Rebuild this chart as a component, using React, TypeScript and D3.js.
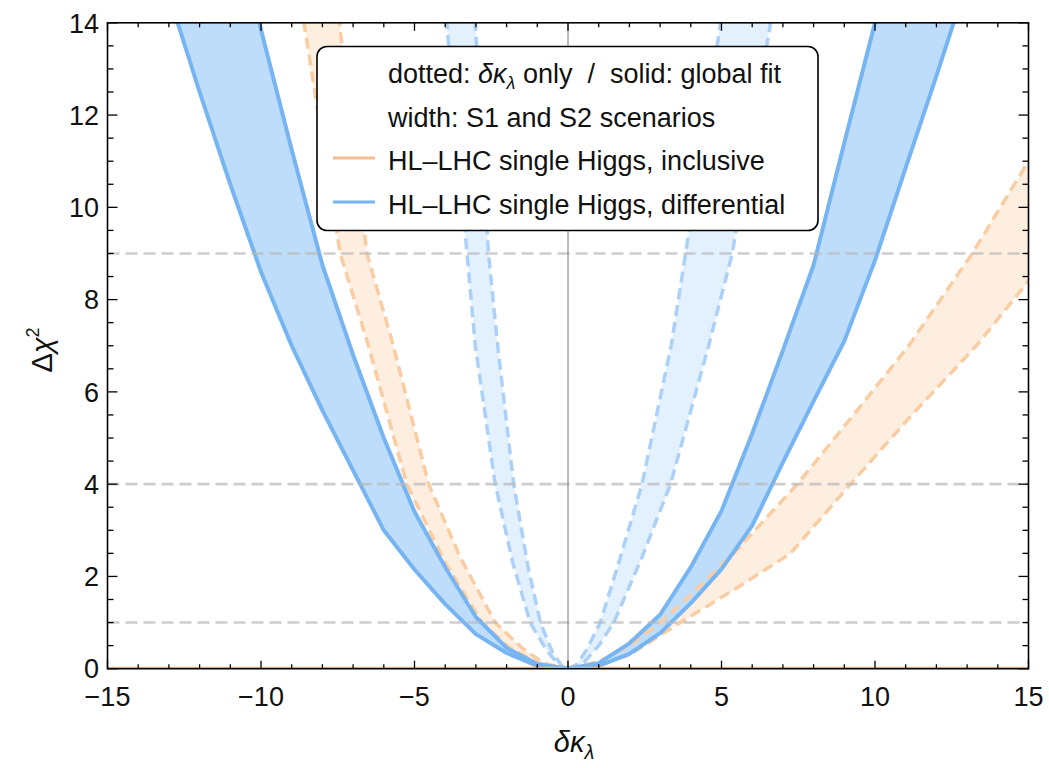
import React from 'react';
import * as d3 from 'd3';

const W = 1049;
const H = 768;
const M = { left: 107.5, right: 1028.5, top: 22.8, bottom: 668.7 };

// ---- axis ticks ----
const xMajorTicks = [-15, -10, -5, 0, 5, 10, 15];
const yMajorTicks = [0, 2, 4, 6, 8, 10, 12, 14];
const refLevels = [1, 4, 9];

// ---- HL-LHC single Higgs, differential: global fit (solid), S1/S2 edges ----
const diffGlobalLeftX = [-13, -12, -11, -10, -9, -8, -7, -6, -5, -4, -3, -2, -1, 0];
const diffGlobalLeftSteep = [22, 19.5, 16.7, 13.85, 11.25, 8.75, 6.8, 5.0, 3.4, 2.2, 1.12, 0.45, 0.1, 0];
const diffGlobalLeftWide = [14.6, 12.5, 10.5, 8.6, 7.0, 5.6, 4.3, 3.0, 2.15, 1.4, 0.75, 0.34, 0.06, 0];
const diffGlobalRightX = [0, 1, 2, 3, 4, 5, 6, 7, 8, 9, 10, 11, 12, 13];
const diffGlobalRightSteep = [0, 0.12, 0.55, 1.17, 2.2, 3.42, 5.1, 6.9, 8.75, 11.4, 14.0, 16.6, 19.2, 22];
const diffGlobalRightWide = [0, 0.06, 0.32, 0.77, 1.42, 2.16, 3.1, 4.47, 5.8, 7.1, 8.85, 10.86, 12.85, 14.9];

// ---- HL-LHC single Higgs, differential: delta-kappa only (dashed) ----
const diffOnlyLeftWideX = [-4.1, -3.95, -3.29, -3.02, -2.37, -1.8, -1.23, -0.7, -0.3, 0];
const diffOnlyLeftWideY = [15.2, 14, 9, 7, 4, 2.3, 1, 0.4, 0.08, 0];
const diffOnlyLeftSteepX = [-3.1, -3.02, -2.59, -2.29, -1.77, -1.3, -0.9, -0.5, -0.2, 0];
const diffOnlyLeftSteepY = [14.8, 14, 9, 7, 4, 2.2, 1, 0.35, 0.06, 0];
const diffOnlyRightSteepX = [0, 0.3, 0.6, 1.05, 1.7, 2.41, 3.36, 3.83, 4.97, 5.1];
const diffOnlyRightSteepY = [0, 0.1, 0.4, 1, 2.4, 4, 7, 9, 14, 14.7];
const diffOnlyRightWideX = [0, 0.5, 1, 1.49, 2.4, 3.34, 4.58, 5.35, 6.6, 6.8];
const diffOnlyRightWideY = [0, 0.12, 0.5, 1, 2.4, 4, 7, 9, 14, 14.8];

// ---- HL-LHC single Higgs, inclusive: delta-kappa only (dashed) ----
const inclOnlyLeftWideX = [-8.9, -8.6, -7.42, -6.5, -5.25, -4, -2.8, -2, -1, 0];
const inclOnlyLeftWideY = [15.5, 14, 9, 7, 4, 2.3, 1, 0.5, 0.12, 0];
const inclOnlyLeftSteepX = [-7.7, -7.45, -6.55, -5.69, -4.54, -3.5, -2.37, -1.5, -0.8, 0];
const inclOnlyLeftSteepY = [16, 14, 9, 7, 4, 2.4, 1, 0.45, 0.12, 0];
const inclOnlyRightSteepX = [0, 1, 2, 3, 4, 5.4, 7.47, 9.3, 11.1, 13.17, 15];
const inclOnlyRightSteepY = [0, 0.15, 0.5, 1.0, 1.6, 2.5, 4, 5.5, 7, 9, 11];
const inclOnlyRightWideX = [0, 1, 2, 3.66, 5.5, 7.25, 9.2, 11.2, 13.3, 15];
const inclOnlyRightWideY = [0, 0.08, 0.3, 1, 1.75, 2.5, 4, 5.5, 7, 8.4];

// ---- HL-LHC single Higgs, inclusive: global fit (flat) ----
const inclGlobalX = [-15, 15];
const inclGlobalY = [0, 0];

const legendLines = [
  'width: S1 and S2 scenarios',
  'HL\u2013LHC single Higgs, inclusive',
  'HL\u2013LHC single Higgs, differential',
];

const BLUE = 'rgb(118,180,242)';
const BLUE_FILL = 'rgb(190,221,250)';
const LBLUE = 'rgb(172,209,248)';
const LBLUE_FILL = 'rgb(227,241,254)';
const ORANGE = 'rgb(250,204,162)';
const ORANGE_FILL = 'rgb(254,238,223)';
const ORANGE_LEG = 'rgb(246,190,140)';
const FONT = '"Liberation Sans", Arial, Helvetica, sans-serif';

export default function App() {
  const x = d3.scaleLinear().domain([-15, 15]).range([M.left, M.right]);
  const y = d3.scaleLinear().domain([0, 14]).range([M.bottom, M.top]);
  const line = d3
    .line<[number, number]>()
    .x((d) => x(d[0]))
    .y((d) => y(d[1]));
  const zip = (xs: number[], ys: number[]) => xs.map((v, i) => [v, ys[i]] as [number, number]);
  const band = (ax: number[], ay: number[], bx: number[], by: number[]) =>
    (line([...zip(ax, ay), ...zip(bx, by).reverse()]) || '') + 'Z';

  const xMinor = d3.range(-15, 15.001, 1);
  const yMinor = d3.range(0, 14.001, 0.5);

  const dashed = { strokeDasharray: '11 6', strokeWidth: 3.5, fill: 'none' } as const;

  return (
    <svg
      width={W}
      height={H}
      style={{ position: 'absolute', left: 0, top: 0, background: '#fff' }}
      fontFamily={FONT}
    >
      <defs>
        <clipPath id="plotclip">
          <rect x={M.left} y={M.top} width={M.right - M.left} height={M.bottom - M.top} />
        </clipPath>
      </defs>
      <rect x={0} y={0} width={W} height={H} fill="#fff" />
      <g clipPath="url(#plotclip)">
        {/* inclusive, kappa only */}
        <path d={band(inclOnlyLeftWideX, inclOnlyLeftWideY, inclOnlyLeftSteepX, inclOnlyLeftSteepY)} fill={ORANGE_FILL} />
        <path d={band(inclOnlyRightSteepX, inclOnlyRightSteepY, inclOnlyRightWideX, inclOnlyRightWideY)} fill={ORANGE_FILL} />
        {/* differential, kappa only */}
        <path d={band(diffOnlyLeftWideX, diffOnlyLeftWideY, diffOnlyLeftSteepX, diffOnlyLeftSteepY)} fill={LBLUE_FILL} />
        <path d={band(diffOnlyRightSteepX, diffOnlyRightSteepY, diffOnlyRightWideX, diffOnlyRightWideY)} fill={LBLUE_FILL} />
        {/* differential, global */}
        <path d={band(diffGlobalLeftX, diffGlobalLeftWide, diffGlobalLeftX, diffGlobalLeftSteep)} fill={BLUE_FILL} />
        <path d={band(diffGlobalRightX, diffGlobalRightSteep, diffGlobalRightX, diffGlobalRightWide)} fill={BLUE_FILL} />

        {/* strokes */}
        {[
          [inclOnlyLeftWideX, inclOnlyLeftWideY],
          [inclOnlyLeftSteepX, inclOnlyLeftSteepY],
          [inclOnlyRightSteepX, inclOnlyRightSteepY],
          [inclOnlyRightWideX, inclOnlyRightWideY],
        ].map(([xs, ys], i) => (
          <path key={'io' + i} d={line(zip(xs, ys)) || ''} stroke={ORANGE} {...dashed} />
        ))}
        {[
          [diffOnlyLeftWideX, diffOnlyLeftWideY],
          [diffOnlyLeftSteepX, diffOnlyLeftSteepY],
          [diffOnlyRightSteepX, diffOnlyRightSteepY],
          [diffOnlyRightWideX, diffOnlyRightWideY],
        ].map(([xs, ys], i) => (
          <path key={'do' + i} d={line(zip(xs, ys)) || ''} stroke={LBLUE} {...dashed} />
        ))}
        {[
          [diffGlobalLeftX, diffGlobalLeftSteep],
          [diffGlobalLeftX, diffGlobalLeftWide],
          [diffGlobalRightX, diffGlobalRightSteep],
          [diffGlobalRightX, diffGlobalRightWide],
        ].map(([xs, ys], i) => (
          <path
            key={'dg' + i}
            d={line(zip(xs, ys)) || ''}
            stroke={BLUE}
            strokeWidth={4}
            fill="none"
            strokeLinejoin="round"
          />
        ))}
        <path d={line(zip(inclGlobalX, inclGlobalY)) || ''} stroke={ORANGE_LEG} strokeWidth={4} fill="none" />

        {/* reference levels */}
        {refLevels.map((v) => (
          <line
            key={'ref' + v}
            x1={M.left}
            x2={M.right}
            y1={y(v)}
            y2={y(v)}
            stroke="#b8b8b8"
            strokeOpacity={0.7}
            strokeWidth={2.6}
            strokeDasharray="12 6"
          />
        ))}
        <line x1={x(0)} x2={x(0)} y1={M.top} y2={M.bottom} stroke="#7a7a7a" strokeWidth={1} />
      </g>

      {/* frame */}
      <rect
        x={M.left}
        y={M.top}
        width={M.right - M.left}
        height={M.bottom - M.top}
        fill="none"
        stroke="#000"
        strokeWidth={1.6}
      />
      {/* x ticks (bottom and top) */}
      {xMinor.map((v) => {
        const major = xMajorTicks.includes(v);
        const len = major ? 8 : 4.5;
        return (
          <g key={'xt' + v}>
            <line x1={x(v)} x2={x(v)} y1={M.bottom} y2={M.bottom - len} stroke="#000" strokeWidth={1.3} />
            <line x1={x(v)} x2={x(v)} y1={M.top} y2={M.top + len} stroke="#000" strokeWidth={1.3} />
          </g>
        );
      })}
      {/* y ticks (left and right) */}
      {yMinor.map((v) => {
        const major = yMajorTicks.includes(v);
        const len = major ? 10 : 6;
        return (
          <g key={'yt' + v}>
            <line x1={M.left} x2={M.left + len} y1={y(v)} y2={y(v)} stroke="#000" strokeWidth={1.3} />
            <line x1={M.right} x2={M.right - len} y1={y(v)} y2={y(v)} stroke="#000" strokeWidth={1.3} />
          </g>
        );
      })}
      {xMajorTicks.map((v) => (
        <text key={'xl' + v} x={x(v)} y={706} fontSize={27} textAnchor="middle" fill="#111">
          {v < 0 ? '\u2212' + Math.abs(v) : String(v)}
        </text>
      ))}
      {yMajorTicks.map((v) => (
        <text key={'yl' + v} x={99} y={y(v)} dy="0.36em" fontSize={27} textAnchor="end" fill="#111">
          {v}
        </text>
      ))}

      {/* axis titles */}
      <text x={574} y={752} fontSize={29} textAnchor="middle" fill="#111">
        <tspan fontStyle="italic">δκ</tspan>
        <tspan fontStyle="italic" fontSize={20} dy={7}>λ</tspan>
      </text>
      <text transform={`translate(52,${350}) rotate(-90)`} fontSize={29} textAnchor="middle" fill="#111">
        <tspan>Δ</tspan>
        <tspan fontStyle="italic">χ</tspan>
        <tspan fontSize={18} dy={-13}>2</tspan>
      </text>

      {/* legend */}
      <rect x={317} y={46.5} width={501} height={184} rx={10} ry={10} fill="#fff" stroke="#000" strokeWidth={1.6} />
      <text x={388} y={83} fontSize={27} fill="#111" style={{ whiteSpace: 'pre' }}>
        <tspan>dotted: </tspan>
        <tspan fontStyle="italic">δκ</tspan>
        <tspan fontStyle="italic" fontSize={18} dy={6}>λ</tspan>
        <tspan dy={-6}>{' only  /  solid: global fit'}</tspan>
      </text>
      {legendLines.map((t, i) => (
        <text key={'lg' + i} x={388} y={126.5 + i * 43.5} fontSize={27} fill="#111">
          {t}
        </text>
      ))}
      <line x1={333} x2={375} y1={158} y2={158} stroke={ORANGE_LEG} strokeWidth={3} />
      <line x1={333} x2={375} y1={202} y2={202} stroke={BLUE} strokeWidth={3} />
    </svg>
  );
}
